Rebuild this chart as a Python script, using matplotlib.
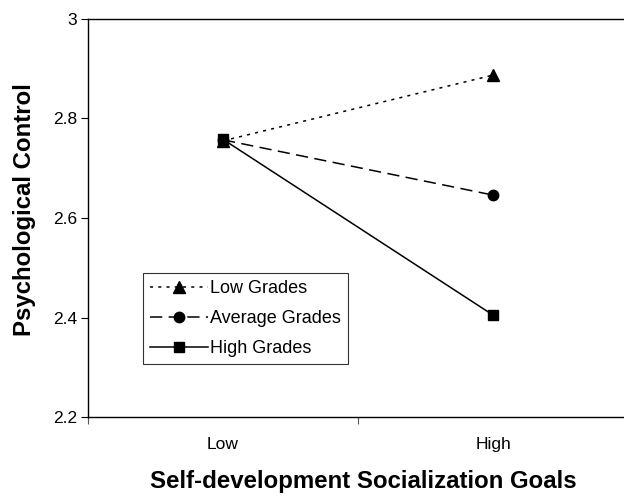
#!/usr/bin/env python3
"""Psychological control by self-development socialization goals and grades."""

import matplotlib
matplotlib.use("Agg")
import matplotlib.pyplot as plt
from matplotlib.ticker import FixedLocator, NullFormatter

plt.rcParams["font.family"] = ["Liberation Sans", "DejaVu Sans"]

categories = ["Low", "High"]
low_grades = [2.755, 2.887]
average_grades = [2.757, 2.646]
high_grades = [2.758, 2.405]
y_ticks = [2.2, 2.4, 2.6, 2.8, 3.0]
y_tick_labels = ["2.2", "2.4", "2.6", "2.8", "3"]


def main():
    fig = plt.figure(figsize=(6.24, 4.96), dpi=100)
    ax = fig.add_axes([0.141, 0.159, 0.859, 0.803])

    x = [0.5, 1.5]
    lw = 1.1
    ax.plot(x, low_grades, color="black", lw=lw, dashes=(2.0, 3.4),
            marker="^", ms=8.5, label="Low Grades")
    ax.plot(x, average_grades, color="black", lw=lw, dashes=(8.0, 4.2),
            marker="o", ms=7.5, label="Average Grades")
    ax.plot(x, high_grades, color="black", lw=lw, linestyle="-",
            marker="s", ms=7, label="High Grades")

    ax.set_xlim(0, 1.985)
    ax.set_ylim(2.2, 3.0)

    # category boundaries get the ticks, labels sit between them
    ax.xaxis.set_major_locator(FixedLocator([0, 1]))
    ax.xaxis.set_major_formatter(NullFormatter())
    ax.xaxis.set_minor_locator(FixedLocator(x))
    ax.set_xticklabels(categories, minor=True)
    ax.tick_params(axis="x", which="minor", length=0, pad=14, labelsize=12.5)
    ax.tick_params(axis="x", which="major", length=5, width=0.8, color="#555555")

    ax.set_yticks(y_ticks)
    ax.set_yticklabels(y_tick_labels)
    ax.tick_params(axis="y", length=5, width=0.8, pad=3, labelsize=12.5)

    ax.spines["right"].set_visible(False)
    for side in ("left", "bottom", "top"):
        ax.spines[side].set_linewidth(1.0)
        ax.spines[side].set_color("black")

    ax.set_xlabel("Self-development Socialization Goals", fontsize=17.3,
                  fontweight="bold", labelpad=13)
    ax.xaxis.label.set_x(0.513)
    ax.set_ylabel("Psychological Control", fontsize=17.3, fontweight="bold",
                  labelpad=12)
    ax.yaxis.label.set_y(0.52)

    leg = ax.legend(loc="upper left", bbox_to_anchor=(0.103, 0.362),
                    fontsize=13, frameon=True, fancybox=False, handlelength=3.2,
                    handletextpad=0.1, borderpad=0.4, labelspacing=0.72,
                    borderaxespad=0)
    leg.get_frame().set_edgecolor("black")
    leg.get_frame().set_linewidth(0.8)

    fig.savefig("out.png", dpi=100)


if __name__ == "__main__":
    main()
